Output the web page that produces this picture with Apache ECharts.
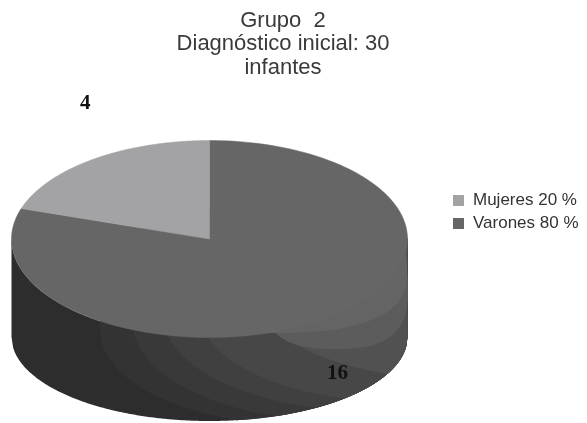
<!DOCTYPE html>
<html><head><meta charset="utf-8">
<style>html,body{margin:0;padding:0;background:#fff}#c{width:587px;height:423px}</style>
<script src="https://cdn.jsdelivr.net/npm/echarts@6/dist/echarts.min.js"></script>
</head><body><div id="c"></div>
<script>
const titleText = "Grupo  2\nDiagnóstico inicial: 30\ninfantes";
const categories = ["Mujeres 20 %", "Varones 80 %"];
const counts = [4, 16];
const colors = ["#a3a3a5", "#666666"];

const P = {cx: 209.5, cy: 239, rx: 198, ry: 98.5, floorY: 337, floorRy: 84};
// shading bands on the rim: [left-most x, centre y, vertical radius, tone]
const bands = [
  [100, 330, 95, "#333333"],
  [132, 320, 100, "#393939"],
  [163, 315, 95, "#404040"],
  [200, 312, 90, "#474747"],
  [267, 305, 75, "#515151"]
];
// paler patches on the rim, lower right: [cx, cy, rx, ry, tone]
const sheens = [
  [335, 290, 73, 59, "#5c5c5c"],
  [265, 270, 142, 63, "#646464"]
];
const total = counts.reduce((a, b) => a + b, 0);
function startAngle(i){ let s = 0; for (let k = 0; k < i; k++) s += counts[k]; return s / total * 2 * Math.PI; }

function wedge(i){
  const a0 = startAngle(i), a1 = a0 + counts[i] / total * 2 * Math.PI;
  const pts = [[P.cx, P.cy]];
  const n = 180;
  for (let k = 0; k <= n; k++){
    const a = a0 + (a1 - a0) * k / n;
    pts.push([P.cx - P.rx * Math.sin(a), P.cy - P.ry * Math.cos(a)]);
  }
  return pts;
}
function arcY(x, cx, rx, ry){ const t = (x - cx) / rx; return ry * Math.sqrt(Math.max(0, 1 - t * t)); }
function floorEdge(x){ return P.floorY + arcY(x, P.cx, P.rx, P.floorRy); }
function rim(){
  const pts = [];
  const x0 = P.cx - P.rx, x1 = P.cx + P.rx;
  for (let k = 0; k <= 240; k++){ const x = x0 + (x1 - x0) * k / 240; pts.push([x, P.cy + arcY(x, P.cx, P.rx, P.ry)]); }
  for (let k = 240; k >= 0; k--){ const x = x0 + (x1 - x0) * k / 240; pts.push([x, floorEdge(x)]); }
  return pts;
}
function band(b){
  const [left, cy, ry, fill] = b;
  const rx = 200, cx = left + rx, x1 = P.cx + P.rx;
  const pts = [];
  for (let k = 0; k <= 200; k++){ const x = left + (x1 - left) * k / 200; pts.push([x, P.cy + arcY(x, P.cx, P.rx, P.ry) - 2]); }
  for (let k = 200; k >= 0; k--){
    const x = left + (x1 - left) * k / 200;
    pts.push([x, Math.min(floorEdge(x), cy + arcY(x, cx, rx, ry))]);
  }
  return {type: "polygon", shape: {points: pts}, style: {fill}};
}
function sheen(s){
  const [cx, cy, rx, ry, fill] = s, n = 2.7;
  const pts = [];
  for (let k = 0; k <= 160; k++){
    const a = Math.PI * 2 * k / 160, c = Math.cos(a), d = Math.sin(a);
    pts.push([cx + rx * Math.sign(c) * Math.pow(Math.abs(c), 2 / n), cy + ry * Math.sign(d) * Math.pow(Math.abs(d), 2 / n)]);
  }
  return {type: "polygon", shape: {points: pts}, style: {fill}};
}
function makeSeries(i){
  return {
    type: "custom", name: categories[i], coordinateSystem: "none",
    itemStyle: {color: colors[i]}, silent: true, animation: false, clip: false,
    z: i === 1 ? 2 : 3,
    data: [[counts[i]]],
    renderItem(){
      const children = [];
      if (i === 1){
        children.push({type: "polygon", shape: {points: rim()}, style: {fill: "#2d2d2d"}});
        bands.forEach(b => children.push(band(b)));
        sheens.forEach(s => children.push(sheen(s)));
      }
      children.push({type: "polygon", shape: {points: wedge(i)}, style: {fill: colors[i], stroke: colors[i], lineWidth: 0.5}});
      return {type: "group", children};
    }
  };
}
const chart = echarts.init(document.getElementById("c"), null, {renderer: "canvas"});
chart.setOption({
  backgroundColor: "#ffffff",
  animation: false,
  title: {text: titleText, left: 278, top: 4, textAlign: "center",
    textStyle: {fontFamily: "Liberation Sans", fontSize: 22, fontWeight: "normal", color: "#3a3a3a", lineHeight: 23.5}},
  legend: {data: categories, orient: "vertical", left: 448, top: 187, icon: "rect", itemWidth: 11, itemHeight: 11, itemGap: 6,
    selectedMode: false,
    textStyle: {fontFamily: "Liberation Sans", fontSize: 17, color: "#333333", padding: [0, 0, 0, 4]}},
  graphic: [
    {type: "text", left: 80, top: 93, style: {text: String(counts[0]), font: "bold 21px 'Liberation Serif'", fill: "#111"}, z: 10},
    {type: "text", left: 327, top: 363, style: {text: String(counts[1]), font: "bold 21px 'Liberation Serif'", fill: "#111"}, z: 10}
  ],
  series: [makeSeries(0), makeSeries(1)]
});
</script></body></html>
